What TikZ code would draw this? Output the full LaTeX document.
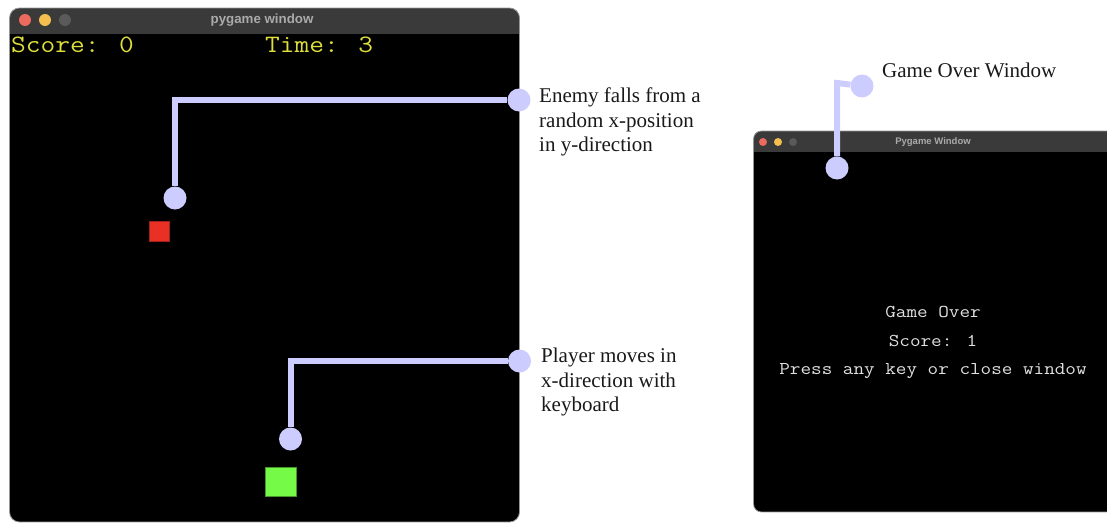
\documentclass[tikz,border=0pt]{standalone}
\usepackage{fontspec}
\usepackage{graphicx}
\setmainfont{Liberation Serif}
\newfontfamily\uisans{Liberation Sans}
\newcommand\wide[1]{\scalebox{1.143}[1]{#1}}
\definecolor{lav}{RGB}{204,204,255}
\definecolor{titlebar}{RGB}{58,58,58}
\definecolor{winedge}{RGB}{150,150,150}
\definecolor{scoreyel}{RGB}{222,222,60}
\definecolor{enemyred}{RGB}{232,48,36}
\definecolor{playergreen}{RGB}{118,250,72}
\definecolor{lightred}{RGB}{237,106,94}
\definecolor{lightyel}{RGB}{245,191,79}
\definecolor{lightgray}{RGB}{90,90,90}
\definecolor{overtext}{RGB}{225,225,225}
\definecolor{titletext}{RGB}{170,170,170}
\definecolor{notetext}{RGB}{25,25,25}
\tikzset{
  x=1pt, y=-1pt,
  dot/.style={circle, fill=lav, inner sep=0pt, minimum size=23pt},
  callout/.style={draw=lav, line width=6pt},
  note/.style={anchor=north west, align=left, inner sep=0pt, text=notetext,
    font=\fontsize{21}{24.5}\selectfont},
  light/.style={circle, inner sep=0pt},
  hud/.style={anchor=base west, inner sep=0pt, text=scoreyel, font=\ttfamily\fontsize{25}{25}\selectfont},
  overtxt/.style={anchor=base, inner sep=0pt, text=overtext, font=\ttfamily\fontsize{18}{18}\selectfont},
}
\begin{document}
\begin{tikzpicture}
\useasboundingbox (0,0) rectangle (1107,522);
% ---------- left window ----------
\begin{scope}
  \clip[rounded corners=10pt] (9.5,8) rectangle (519.5,522);
  \fill[black] (9.5,8) rectangle (519.5,522);
  \fill[titlebar] (9.5,8) rectangle (519.5,34);
\end{scope}
\draw[winedge, line width=0.8pt, rounded corners=10pt] (9.5,8) rectangle (519.5,522);
\node[light, fill=lightred, minimum size=12pt] (l1) at (25,20) {};
\node[light, fill=lightyel, minimum size=12pt] (l2) at (45,20) {};
\node[light, fill=lightgray, minimum size=12pt] (l3) at (65,20) {};
\node[text=titletext, font=\uisans\bfseries\fontsize{13.3}{13.3}\selectfont, inner sep=0pt] (t1) at (262,20) {pygame window};
\node[hud] (score) at (11,52) {\wide{Score: 0}};
\node[hud] (time) at (265,52) {\wide{Time: 3}};
\node[fill=enemyred, draw=enemyred!70!black, line width=0.4pt, inner sep=0pt, minimum size=20pt] (enemy) at (159,231) {};
\node[fill=playergreen, draw=playergreen!60!black, line width=0.4pt, inner sep=0pt, minimum width=31pt, minimum height=29pt] (player) at (280.5,481.5) {};
% ---------- right window ----------
\begin{scope}
  \clip (740,100) rectangle (1107,522);
  \begin{scope}
    \clip[rounded corners=8pt] (753.5,131) rectangle (1125,512);
    \fill[black] (753.5,131) rectangle (1125,512);
    \fill[titlebar] (753.5,131) rectangle (1125,152);
  \end{scope}
  \draw[winedge, line width=0.8pt, rounded corners=8pt] (753.5,131) rectangle (1125,512);
\end{scope}
\node[light, fill=lightred, minimum size=8pt] (r1) at (763,142) {};
\node[light, fill=lightyel, minimum size=8pt] (r2) at (778,142) {};
\node[light, fill=lightgray, minimum size=8pt] (r3) at (793,142) {};
\node[text=titletext, font=\uisans\bfseries\fontsize{9.5}{9.5}\selectfont, inner sep=0pt] (t2) at (933,142) {Pygame Window};
\node[overtxt] (go) at (933,317) {\wide{Game Over}};
\node[overtxt] (gs) at (933,346) {\wide{Score: 1}};
\node[overtxt] (gp) at (933,374) {\wide{Press any key or close window}};
% ---------- callouts ----------
\node[dot] (e1) at (175,198) {};
\node[dot] (e2) at (519,100) {};
\draw[callout] (e1) |- (e2);
\node[note] (en) at (539,88) {Enemy falls from a\\random x-position\\in y-direction};
\node[dot] (p1) at (290.5,439) {};
\node[dot] (p2) at (519.5,361) {};
\draw[callout] (p1) |- (p2);
\node[note] (pn) at (541,348) {Player moves in\\x-direction with\\keyboard};
\node[dot] (g1) at (837,168) {};
\node[dot] (g2) at (862,86) {};
\coordinate (gk) at (837,83);
\draw[callout] (g1) -- (gk) -- (g2);
\node[note] (gn) at (882,63) {Game Over Window};
\end{tikzpicture}
\end{document}
